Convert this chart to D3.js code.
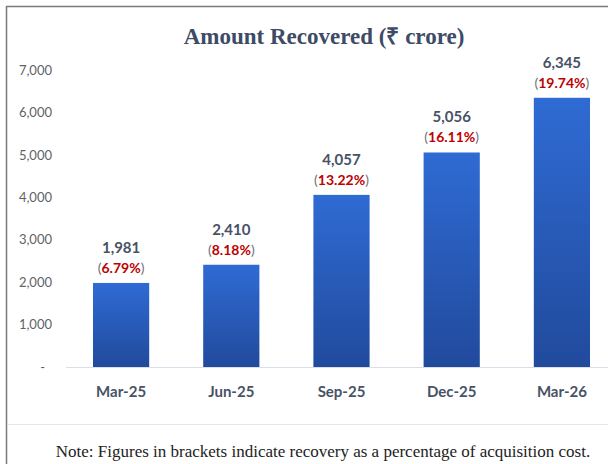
<!DOCTYPE html>
<html>
<head>
<meta charset="utf-8">
<script src="https://cdn.jsdelivr.net/npm/d3@7"></script>
<style>
  body { margin: 0; background: #fff; }
  svg { display: block; }
</style>
</head>
<body>
<svg id="chart"></svg>
<script>
// data
const periods = ['Mar-25', 'Jun-25', 'Sep-25', 'Dec-25', 'Mar-26'];
const amounts = [1981, 2410, 4057, 5056, 6345];
const percents = ['6.79%', '8.18%', '13.22%', '16.11%', '19.74%'];
const yTicks = [0, 1000, 2000, 3000, 4000, 5000, 6000, 7000];

const data = periods.map((p, i) => ({ period: p, amount: amounts[i], pct: percents[i] }));

const width = 608, height = 464;
const svg = d3.select('#chart')
    .attr('width', width)
    .attr('height', height);

// gradient for the bars
const defs = svg.append('defs');
const grad = defs.append('linearGradient')
    .attr('id', 'barGrad')
    .attr('x1', 0).attr('y1', 0).attr('x2', 0).attr('y2', 1);
grad.append('stop').attr('offset', '0%').attr('stop-color', '#2f6bd4');
grad.append('stop').attr('offset', '100%').attr('stop-color', '#214a9c');

// frame
svg.append('line')
    .attr('x1', 6.5).attr('x2', 6.5).attr('y1', 6).attr('y2', height)
    .attr('stroke', '#7a7a7a').attr('stroke-width', 1.5);
svg.append('line')
    .attr('x1', 6).attr('x2', width).attr('y1', 6.5).attr('y2', 6.5)
    .attr('stroke', '#7a7a7a').attr('stroke-width', 1.5);
svg.append('line')
    .attr('x1', 7).attr('x2', width).attr('y1', 424.5).attr('y2', 424.5)
    .attr('stroke', '#e2e6ee').attr('stroke-width', 1);

// title
svg.append('text')
    .attr('x', 324)
    .attr('y', 44)
    .attr('text-anchor', 'middle')
    .attr('font-family', '"Liberation Serif", "Times New Roman", serif')
    .attr('font-weight', 'bold')
    .attr('font-size', '23px')
    .attr('fill', '#3d4b66')
    .text('Amount Recovered (₹ crore)');

// scales
const x = d3.scaleBand()
    .domain(periods)
    .range([66, 617])
    .paddingInner(0.49)
    .paddingOuter(0.245);

const y = d3.scaleLinear()
    .domain([0, 7000])
    .range([367, 70]);

// y axis (no line, no ticks)
const yAxis = d3.axisLeft(y)
    .tickValues(yTicks)
    .tickSize(0)
    .tickPadding(0)
    .tickFormat(d => d === 0 ? '-' : d3.format(',')(d));

const yAxisGroup = svg.append('g')
    .attr('transform', 'translate(52,0)')
    .call(yAxis);
yAxisGroup.select('.domain').remove();
yAxisGroup.selectAll('text')
    .attr('font-family', 'Lato, "Open Sans", sans-serif')
    .attr('font-size', '13px')
    .attr('fill', '#5f6368')
    .attr('dx', d => d === 0 ? -7 : 0);

// baseline
svg.append('line')
    .attr('x1', 66).attr('x2', width)
    .attr('y1', y(0) + 0.5).attr('y2', y(0) + 0.5)
    .attr('stroke', '#d9dee8').attr('stroke-width', 1);

// bars
svg.selectAll('rect.bar')
    .data(data)
    .enter()
    .append('rect')
        .attr('class', 'bar')
        .attr('fill', 'url(#barGrad)')
        .attr('x', d => x(d.period))
        .attr('width', x.bandwidth())
        .attr('y', d => y(d.amount))
        .attr('height', d => y(0) - y(d.amount));

// value labels
svg.selectAll('text.val')
    .data(data)
    .enter()
    .append('text')
        .attr('class', 'val')
        .attr('x', d => x(d.period) + x.bandwidth() / 2)
        .attr('y', d => y(d.amount) - 30)
        .attr('text-anchor', 'middle')
        .attr('font-family', 'Lato, "Open Sans", sans-serif')
        .attr('font-weight', 'bold')
        .attr('font-size', '15px')
        .attr('fill', '#485266')
        .text(d => d3.format(',')(d.amount));

// percentage labels in brackets
const pct = svg.selectAll('text.pct')
    .data(data)
    .enter()
    .append('text')
        .attr('class', 'pct')
        .attr('x', d => x(d.period) + x.bandwidth() / 2)
        .attr('y', d => y(d.amount) - 10)
        .attr('text-anchor', 'middle')
        .attr('font-family', 'Lato, "Open Sans", sans-serif')
        .attr('font-size', '14px')
        .attr('fill', '#6b7280');
pct.append('tspan').text('(');
pct.append('tspan')
    .attr('fill', '#c00000')
    .attr('font-weight', 'bold')
    .text(d => d.pct);
pct.append('tspan').text(')');

// x labels
svg.selectAll('text.xlab')
    .data(data)
    .enter()
    .append('text')
        .attr('class', 'xlab')
        .attr('x', d => x(d.period) + x.bandwidth() / 2)
        .attr('y', 397)
        .attr('text-anchor', 'middle')
        .attr('font-family', 'Lato, "Open Sans", sans-serif')
        .attr('font-weight', 'bold')
        .attr('font-size', '15px')
        .attr('fill', '#485266')
        .text(d => d.period);

// note
svg.append('text')
    .attr('x', 323)
    .attr('y', 457)
    .attr('text-anchor', 'middle')
    .attr('font-family', '"Liberation Serif", "Times New Roman", serif')
    .attr('font-size', '17px')
    .attr('fill', '#222')
    .text('Note: Figures in brackets indicate recovery as a percentage of acquisition cost.');
</script>
</body>
</html>
